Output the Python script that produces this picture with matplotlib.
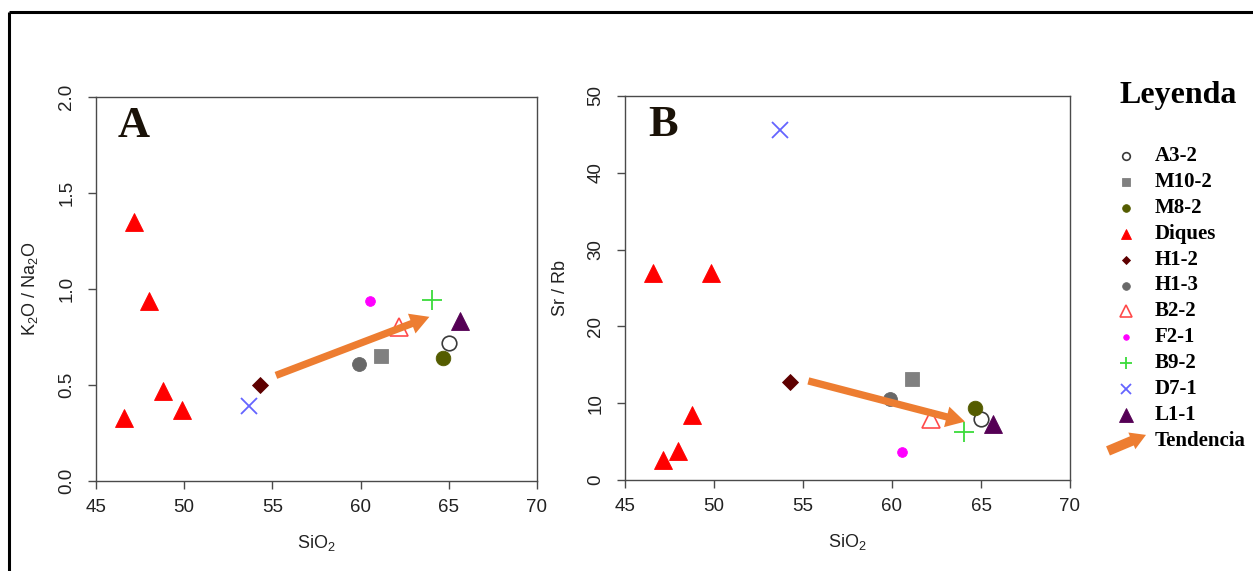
import matplotlib.pyplot as plt

W, H, DPI = 1253, 571, 100

# Dykes (Diques), five samples
DIQUES_SIO2 = [46.6, 47.15, 47.98, 48.77, 49.85]
DIQUES_K2O_NA2O = [0.33, 1.35, 0.94, 0.47, 0.37]
DIQUES_SR_RB = [26.9, 2.6, 3.8, 8.4, 26.9]

# Single samples
SAMPLE_NAMES = ["A3-2", "M10-2", "M8-2", "H1-2", "H1-3", "B2-2", "F2-1", "B9-2", "D7-1", "L1-1"]
SAMPLE_SIO2 = [65.0, 61.15, 64.65, 54.28, 59.9, 62.2, 60.55, 64.05, 53.7, 65.65]
SAMPLE_K2O_NA2O = [0.72, 0.65, 0.64, 0.50, 0.61, 0.80, 0.94, 0.945, 0.39, 0.835]
SAMPLE_SR_RB = [7.9, 13.1, 9.4, 12.7, 10.5, 7.9, 3.6, 6.3, 45.6, 7.3]

# Trend arrows (start, end) in SiO2 / ratio units
TREND_A_SIO2 = [55.2, 63.9]
TREND_A_RATIO = [0.55, 0.855]
TREND_B_SIO2 = [55.3, 64.1]
TREND_B_RATIO = [12.9, 7.6]

LEGEND_ORDER = ["A3-2", "M10-2", "M8-2", "Diques", "H1-2", "H1-3",
                "B2-2", "F2-1", "B9-2", "D7-1", "L1-1"]

ORANGE = "#ED7D31"

# marker, edge colour, face colour, size in plot, size in legend
STYLE = {
    "A3-2": ("o", "#3a3a3a", "white", 10.5, 5.5),
    "M10-2": ("s", "#808080", "#808080", 10.5, 6),
    "M8-2": ("o", "#545C00", "#545C00", 10.5, 5.5),
    "Diques": ("^", "#FF0000", "#FF0000", 13, 7),
    "H1-2": ("D", "#5E0000", "#5E0000", 8, 4.5),
    "H1-3": ("o", "#686868", "#686868", 10, 5.5),
    "B2-2": ("^", "#FF4A4A", "none", 13, 8),
    "F2-1": ("o", "#FF00FF", "#FF00FF", 7, 4),
    "B9-2": ("+", "#3ADB3A", "#3ADB3A", 15, 9),
    "D7-1": ("x", "#6464FF", "#6464FF", 12, 7),
    "L1-1": ("^", "#550055", "#550055", 13, 10),
}

SANS = "Liberation Sans"
SERIF = "Liberation Serif"
plt.rcParams["font.family"] = SANS
plt.rcParams["mathtext.default"] = "regular"
plt.rcParams["axes.linewidth"] = 1.0


def draw_point(ax, name, x, y, legend=False):
    marker, edge, face, size, lsize = STYLE[name]
    ms = lsize if legend else size
    open_marker = face == "none" or face == "white"
    mew = 1.3 if marker in ("+", "x") else (1.2 if open_marker else 0.6)
    ax.plot(x, y, linestyle="none", marker=marker, markersize=ms,
            markeredgecolor=edge, markerfacecolor=face, markeredgewidth=mew,
            clip_on=False)


def draw_trend(ax, xs, ys, scale=16):
    ax.annotate("", xy=(xs[1], ys[1]), xytext=(xs[0], ys[0]),
                arrowprops=dict(arrowstyle="simple,head_length=0.85,head_width=0.95,tail_width=0.33",
                                color=ORANGE, lw=0, mutation_scale=scale,
                                shrinkA=0, shrinkB=0))


def panel(ax, ratios, dique_ratios, trend_x, trend_y, ylim, yticks, ylabel, letter):
    ax.set_xlim(45, 70)
    ax.set_ylim(*ylim)
    ax.set_xticks([45, 50, 55, 60, 65, 70])
    ax.set_yticks(yticks)
    for spine in ax.spines.values():
        spine.set_color("#4a4a4a")
    ax.tick_params(length=6, width=1.0, color="#4a4a4a", labelsize=13.5, labelcolor="#222222")
    ax.tick_params(axis="x", pad=7)
    ax.tick_params(axis="y", pad=9)
    ax.set_xlabel("SiO$_2$", fontsize=13, color="#222222", labelpad=12)
    ax.set_ylabel(ylabel, fontsize=13, color="#222222", labelpad=13)

    for x, y in zip(DIQUES_SIO2, dique_ratios):
        draw_point(ax, "Diques", x, y)
    for name, x, y in zip(SAMPLE_NAMES, SAMPLE_SIO2, ratios):
        draw_point(ax, name, x, y)
    draw_trend(ax, trend_x, trend_y)

    ax.text(0.085, 0.925, letter, transform=ax.transAxes, ha="center", va="center",
            fontsize=32, fontweight="bold", family=SERIF, color="#1a1208")


fig = plt.figure(figsize=(W / DPI, H / DPI), dpi=DPI)

ax_a = fig.add_axes([96 / W, 1 - 481 / H, 441 / W, 384 / H])
panel(ax_a, SAMPLE_K2O_NA2O, DIQUES_K2O_NA2O, TREND_A_SIO2, TREND_A_RATIO,
      (0, 2.0), [0.0, 0.5, 1.0, 1.5, 2.0], "K$_2$O / Na$_2$O", "A")
ax_a.set_yticklabels(["0.0", "0.5", "1.0", "1.5", "2.0"])

ax_b = fig.add_axes([625 / W, 1 - 480 / H, 445 / W, 384 / H])
panel(ax_b, SAMPLE_SR_RB, DIQUES_SR_RB, TREND_B_SIO2, TREND_B_RATIO,
      (0, 50), [0, 10, 20, 30, 40, 50], "Sr / Rb", "B")

# R-style vertical tick labels on the y axes
for ax in (ax_a, ax_b):
    for lab in ax.get_yticklabels():
        lab.set_rotation(90)
        lab.set_va("center")

# overlay in pixel units for the frame and the legend
ov = fig.add_axes([0, 0, 1, 1])
ov.set_xlim(0, W)
ov.set_ylim(H, 0)
ov.axis("off")
ov.patch.set_alpha(0)

ov.plot([9, W], [12, 12], color="black", lw=2.2, solid_capstyle="butt")
ov.plot([9, 9], [12, H], color="black", lw=2.2, solid_capstyle="butt")

ov.text(1178, 95, "Leyenda", ha="center", va="center", fontsize=23,
        fontweight="bold", family=SERIF)

row_y0, row_dy = 156, 25.9
for i, name in enumerate(LEGEND_ORDER):
    y = row_y0 + i * row_dy
    draw_point(ov, name, 1126, y, legend=True)
    ov.text(1155, y, name, ha="left", va="center", fontsize=15,
            fontweight="bold", family=SERIF)

y_trend = row_y0 + len(LEGEND_ORDER) * row_dy
ov.annotate("", xy=(1146, y_trend - 6), xytext=(1108, y_trend + 10),
            arrowprops=dict(arrowstyle="simple,head_length=0.85,head_width=1.0,tail_width=0.55",
                            color=ORANGE, lw=0, mutation_scale=13, shrinkA=0, shrinkB=0))
ov.text(1155, y_trend, "Tendencia", ha="left", va="center", fontsize=15,
        fontweight="bold", family=SERIF)

fig.savefig("out.png", dpi=DPI)
